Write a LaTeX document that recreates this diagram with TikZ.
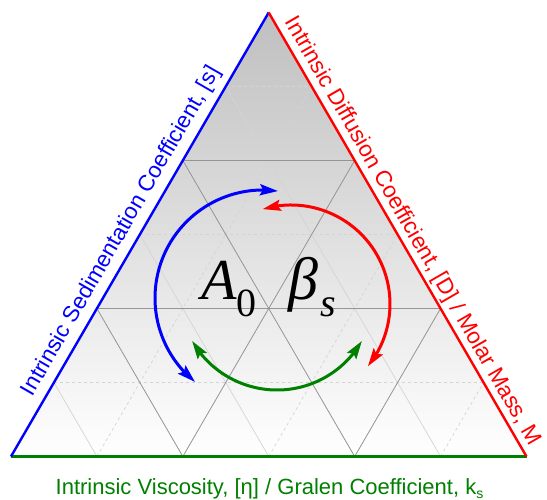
\documentclass[tikz,border=0pt]{standalone}
\usepackage{fontspec}
\setmainfont{Liberation Sans}
\newfontfamily\timesfont{Liberation Serif}
\usetikzlibrary{calc,arrows.meta,bending}
\definecolor{dgreen}{RGB}{0,128,0}
\begin{document}
\begin{tikzpicture}[x=1pt,y=1pt,
  major/.style={black!42, line width=0.8pt},
  minorsolid/.style={black!17, line width=0.7pt},
  minordash/.style={black!17, line width=0.7pt, dash pattern=on 3pt off 3pt},
  edge/.style={line width=2.4pt},
  cyc/.style={line width=3pt, <->, >={Stealth[length=18pt,width=11pt,inset=3pt]}},
  axlabel/.style={font=\fontsize{22.5}{22.5}\selectfont, inner sep=0pt},
  sym/.style={inner sep=0pt, anchor=base west}]
\useasboundingbox (0,0) rectangle (547,499);
\coordinate (A) at (11,42.5);
\coordinate (B) at (526.5,42.5);
\coordinate (C) at (268.7,486.5);
% shaded background
\shade[top color=black!25, bottom color=white] (A) -- (B) -- (C) -- cycle;
% minor grid
\foreach \t in {0.1666667,0.5,0.8333333}{
  \pgfmathsetmacro{\u}{1-\t}
  \draw[minordash] (barycentric cs:A=\u,C=\t) -- (barycentric cs:B=\u,C=\t);
  \draw[minordash] (barycentric cs:A=\u,B=\t) -- (barycentric cs:B=\t,C=\u);
  \draw[minorsolid] (barycentric cs:A=\u,B=\t) -- (barycentric cs:A=\u,C=\t);
}
% major grid
\foreach \t in {0.3333333,0.6666667}{
  \pgfmathsetmacro{\u}{1-\t}
  \draw[major] (barycentric cs:A=\u,C=\t) -- (barycentric cs:B=\u,C=\t);
  \draw[major] (barycentric cs:A=\u,B=\t) -- (barycentric cs:B=\t,C=\u);
  \draw[major] (barycentric cs:A=\u,B=\t) -- (barycentric cs:A=\u,C=\t);
}
% edges
\draw[edge, dgreen] (A) -- (B);
\draw[edge, blue] (A) -- (C);
\draw[edge, red] (C) -- (B);
% cycle arrows
\coordinate (cb) at (263,201);
\coordinate (cr) at (291,195);
\coordinate (cg) at (277,207);
\draw[cyc, blue] ($(cb)+(82:108)$) arc[start angle=82, end angle=231, radius=108];
\draw[cyc, red] ($(cr)+(106.6:99)$) arc[start angle=106.6, end angle=-39, radius=99];
\draw[cyc, dgreen] ($(cg)+(210:98)$) arc[start angle=210, end angle=330, radius=98];
% symbols
\node[sym] (a0) at (201,199) {\timesfont\fontsize{58}{58}\selectfont\itshape A\kern0pt\raisebox{-17pt}{\fontsize{40}{40}\selectfont\upshape 0}};
\node[sym] (bs) at (288,199) {\timesfont\fontsize{60}{60}\selectfont\itshape β\kern2pt\raisebox{-17pt}{\fontsize{40}{40}\selectfont s}};
% axis labels
\node[axlabel, blue, anchor=base west, rotate=60] (ls) at ($($(A)!62pt!(C)$)!11pt!90:(C)$) {Intrinsic Sedimentation Coefficient, [s]};
\node[axlabel, red, anchor=base west, rotate=-60] (ld) at ($($(C)!16pt!(B)$)!9pt!90:(B)$) {Intrinsic Diffusion Coefficient, [D] / Molar Mass, M};
\node[axlabel, dgreen, anchor=base, font=\fontsize{22}{22}\selectfont] (lv) at (269.5,5) {Intrinsic Viscosity, [η] / Gralen Coefficient, k\raisebox{-4pt}{\fontsize{14}{14}\selectfont s}};
\end{tikzpicture}
\end{document}
